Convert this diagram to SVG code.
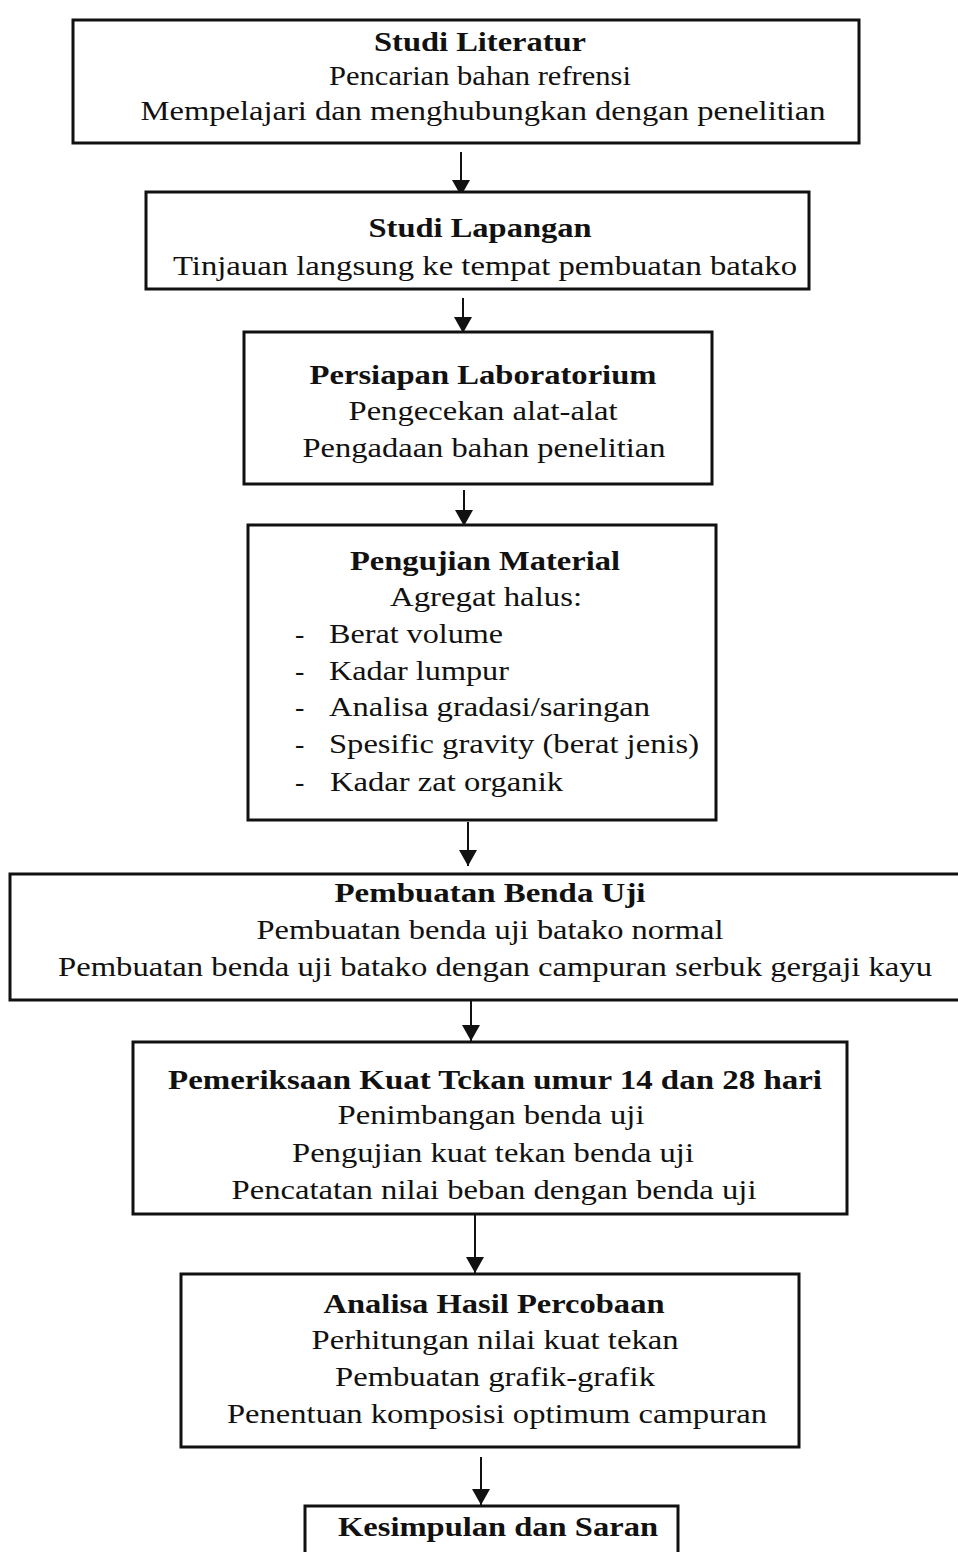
<svg xmlns="http://www.w3.org/2000/svg" width="958" height="1552" viewBox="0 0 958 1552">
<style>
.box{fill:#fff;stroke:#111;stroke-width:3}
text{font-family:"Liberation Serif","Times New Roman",serif;font-size:28px;fill:#111;text-anchor:middle}
.b{font-weight:bold}
.l{text-anchor:start}
.c{stroke:#111;stroke-width:2;fill:none}
</style>
<defs>
<marker id="ah" markerWidth="8" markerHeight="9" refX="8" refY="4.5" orient="auto" markerUnits="userSpaceOnUse" viewBox="0 0 8 9">
<path d="M0,0 L8,4.5 L0,9 Z" fill="#111"/>
</marker>
<marker id="arr" viewBox="0 0 16 18" refX="16" refY="9" markerWidth="16" markerHeight="18" orient="auto" markerUnits="userSpaceOnUse">
<path d="M0,0 L16,9 L0,18 Z" fill="#111"/>
</marker>
</defs>
<rect width="958" height="1552" fill="#fff"/>
<g id="connectors">
<line class="c" x1="461" y1="152" x2="461" y2="196" marker-end="url(#arr)"/>
<line class="c" x1="463" y1="298" x2="463" y2="333" marker-end="url(#arr)"/>
<line class="c" x1="464" y1="490" x2="464" y2="526" marker-end="url(#arr)"/>
<line class="c" x1="468" y1="822" x2="468" y2="866" marker-end="url(#arr)"/>
<line class="c" x1="471" y1="1000" x2="471" y2="1041" marker-end="url(#arr)"/>
<line class="c" x1="475" y1="1205" x2="475" y2="1273" marker-end="url(#arr)"/>
<line class="c" x1="481" y1="1457" x2="481" y2="1505" marker-end="url(#arr)"/>
</g>
<g id="n1">
<rect class="box" x="73" y="20" width="786" height="123"/>
<text class="b" x="480" y="51" textLength="212" lengthAdjust="spacingAndGlyphs">Studi Literatur</text>
<text x="480" y="85" textLength="302" lengthAdjust="spacingAndGlyphs">Pencarian bahan refrensi</text>
<text x="483" y="120" textLength="685" lengthAdjust="spacingAndGlyphs">Mempelajari dan menghubungkan dengan penelitian</text>
</g>
<g id="n2">
<rect class="box" x="146" y="192" width="663" height="97"/>
<text class="b" x="480" y="237" textLength="223" lengthAdjust="spacingAndGlyphs">Studi Lapangan</text>
<text x="485" y="275" textLength="624" lengthAdjust="spacingAndGlyphs">Tinjauan langsung ke tempat pembuatan batako</text>
</g>
<g id="n3">
<rect class="box" x="244" y="332" width="468" height="152"/>
<text class="b" x="483" y="384" textLength="347" lengthAdjust="spacingAndGlyphs">Persiapan Laboratorium</text>
<text x="483" y="420" textLength="269" lengthAdjust="spacingAndGlyphs">Pengecekan alat-alat</text>
<text x="484" y="457" textLength="363" lengthAdjust="spacingAndGlyphs">Pengadaan bahan penelitian</text>
</g>
<g id="n4">
<rect class="box" x="248" y="525" width="468" height="295"/>
<text class="b" x="485" y="570" textLength="270" lengthAdjust="spacingAndGlyphs">Pengujian Material</text>
<text x="486" y="606" textLength="192" lengthAdjust="spacingAndGlyphs">Agregat halus:</text>
<text class="l" x="295" y="643">-</text>
<text class="l" x="329" y="643" textLength="174" lengthAdjust="spacingAndGlyphs">Berat volume</text>
<text class="l" x="295" y="680">-</text>
<text class="l" x="329" y="680" textLength="180" lengthAdjust="spacingAndGlyphs">Kadar lumpur</text>
<text class="l" x="295" y="716">-</text>
<text class="l" x="329" y="716" textLength="321" lengthAdjust="spacingAndGlyphs">Analisa gradasi/saringan</text>
<text class="l" x="295" y="753">-</text>
<text class="l" x="329" y="753" textLength="370" lengthAdjust="spacingAndGlyphs">Spesific gravity (berat jenis)</text>
<text class="l" x="295" y="791">-</text>
<text class="l" x="330" y="791" textLength="233" lengthAdjust="spacingAndGlyphs">Kadar zat organik</text>
</g>
<g id="n5">
<rect class="box" x="10" y="874" width="960" height="126"/>
<text class="b" x="490" y="902" textLength="311" lengthAdjust="spacingAndGlyphs">Pembuatan Benda Uji</text>
<text x="490" y="939" textLength="467" lengthAdjust="spacingAndGlyphs">Pembuatan benda uji batako normal</text>
<text x="495" y="976" textLength="874" lengthAdjust="spacingAndGlyphs">Pembuatan benda uji batako dengan campuran serbuk gergaji kayu</text>
</g>
<g id="n6">
<rect class="box" x="133" y="1042" width="714" height="172"/>
<text class="b" x="495" y="1089" textLength="654" lengthAdjust="spacingAndGlyphs">Pemeriksaan Kuat Tckan umur 14 dan 28 hari</text>
<text x="491" y="1124" textLength="307" lengthAdjust="spacingAndGlyphs">Penimbangan benda uji</text>
<text x="493" y="1162" textLength="402" lengthAdjust="spacingAndGlyphs">Pengujian kuat tekan benda uji</text>
<text x="494" y="1199" textLength="525" lengthAdjust="spacingAndGlyphs">Pencatatan nilai beban dengan benda uji</text>
</g>
<g id="n7">
<rect class="box" x="181" y="1274" width="618" height="173"/>
<text class="b" x="494" y="1313" textLength="341" lengthAdjust="spacingAndGlyphs">Analisa Hasil Percobaan</text>
<text x="495" y="1349" textLength="367" lengthAdjust="spacingAndGlyphs">Perhitungan nilai kuat tekan</text>
<text x="495" y="1386" textLength="320" lengthAdjust="spacingAndGlyphs">Pembuatan grafik-grafik</text>
<text x="497" y="1423" textLength="540" lengthAdjust="spacingAndGlyphs">Penentuan komposisi optimum campuran</text>
</g>
<g id="n8">
<rect class="box" x="305" y="1506" width="373" height="60"/>
<text class="b" x="498" y="1536" textLength="320" lengthAdjust="spacingAndGlyphs">Kesimpulan dan Saran</text>
</g>
</svg>
